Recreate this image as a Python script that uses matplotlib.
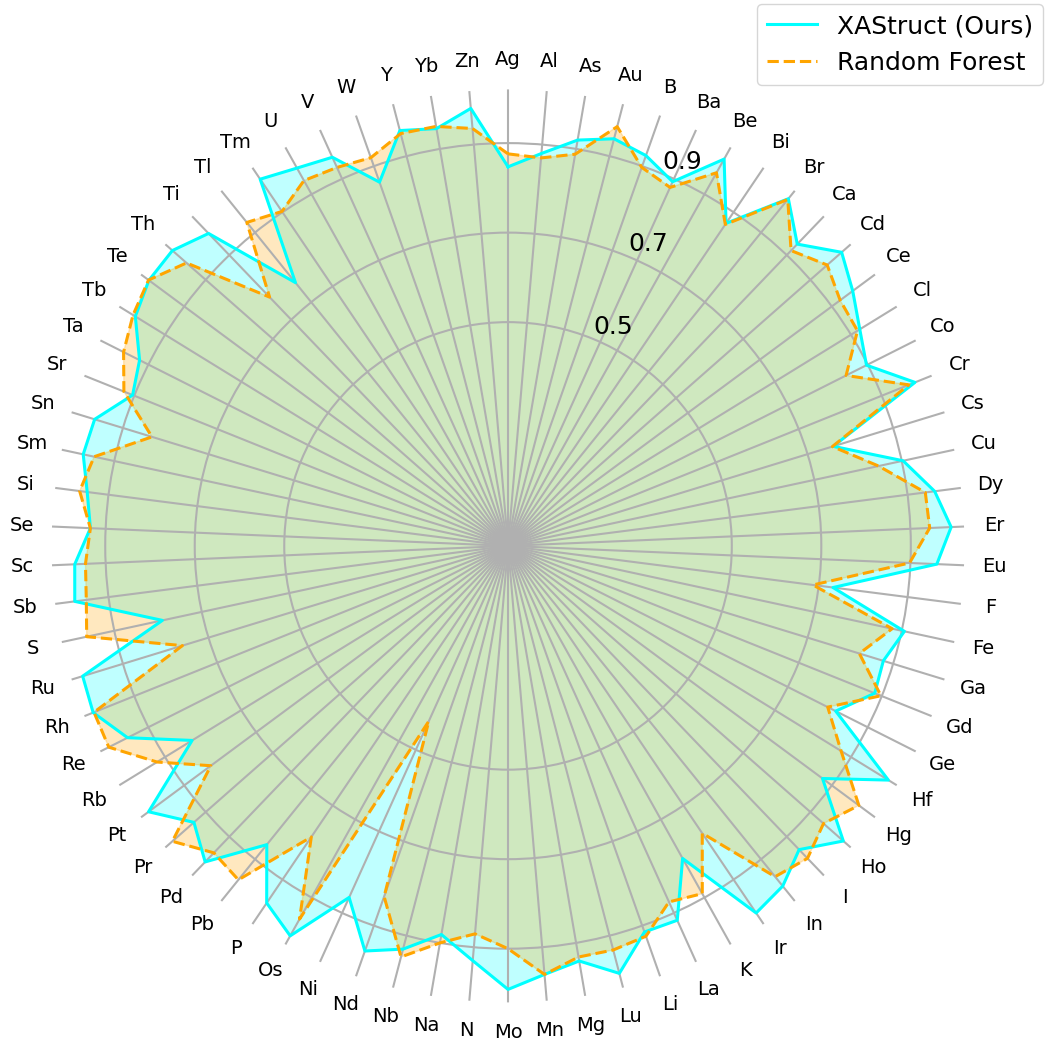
import matplotlib
matplotlib.use('Agg')
import matplotlib.pyplot as plt
import numpy as np

elements = ['Ag', 'Al', 'As', 'Au', 'B', 'Ba', 'Be', 'Bi', 'Br', 'Ca', 'Cd', 'Ce', 'Cl', 'Co',
            'Cr', 'Cs', 'Cu', 'Dy', 'Er', 'Eu', 'F', 'Fe', 'Ga', 'Gd', 'Ge', 'Hf', 'Hg', 'Ho',
            'I', 'In', 'Ir', 'K', 'La', 'Li', 'Lu', 'Mg', 'Mn', 'Mo', 'N', 'Na', 'Nb', 'Nd',
            'Ni', 'Os', 'P', 'Pb', 'Pd', 'Pr', 'Pt', 'Rb', 'Re', 'Rh', 'Ru', 'S', 'Sb', 'Sc',
            'Se', 'Si', 'Sm', 'Sn', 'Sr', 'Ta', 'Tb', 'Te', 'Th', 'Ti', 'Tl', 'Tm', 'U', 'V',
            'W', 'Y', 'Yb', 'Zn']

xastruct = [0.847, 0.880, 0.920, 0.940, 0.925, 0.893, 0.990, 0.870, 0.997, 0.934, 0.993, 0.958,
            0.923, 0.897, 0.980, 0.760, 0.903, 0.961, 0.991, 0.959, 0.732, 0.906, 0.877, 0.883,
            0.820, 0.998, 0.874, 0.998, 0.940, 0.977, 0.990, 0.800, 0.918, 0.915, 0.987, 0.941,
            0.961, 0.991, 0.930, 0.881, 0.931, 0.960, 0.862, 0.998, 0.963, 0.858, 0.978, 0.935,
            0.999, 0.829, 0.952, 0.999, 0.994, 0.790, 0.976, 0.969, 0.934, 0.948, 0.971, 0.966,
            0.904, 0.922, 0.978, 0.998, 0.999, 0.967, 0.756, 0.989, 0.967, 0.953, 0.862, 0.959,
            0.946, 0.981]

random_forest = [0.876, 0.870, 0.888, 0.968, 0.897, 0.879, 0.955, 0.867, 0.995, 0.914, 0.950, 0.923,
                 0.917, 0.846, 0.965, 0.758, 0.847, 0.940, 0.943, 0.898, 0.687, 0.878, 0.821, 0.898,
                 0.800, 0.874, 0.975, 0.939, 0.967, 0.950, 0.775, 0.890, 0.873, 0.925, 0.933, 0.932,
                 0.961, 0.900, 0.870, 0.900, 0.949, 0.831, 0.430, 0.955, 0.785, 0.959, 0.950, 0.999,
                 0.826, 0.921, 0.999, 0.997, 0.761, 0.963, 0.950, 0.945, 0.934, 0.965, 0.946, 0.832,
                 0.925, 0.962, 0.984, 0.999, 0.957, 0.770, 0.929, 0.902, 0.935, 0.928, 0.920, 0.952,
                 0.951, 0.936]

r_ticks = [0.5, 0.7, 0.9]

n = len(elements)
angles = np.linspace(0, 2 * np.pi, n, endpoint=False).tolist()
angles_closed = angles + angles[:1]

fig = plt.figure(figsize=(10.45, 10.42), dpi=100)
# axes placed so the centre sits where the reference has it
ax = fig.add_axes([0.0493, 0.038, 0.8737, 0.8762], projection='polar')
ax.set_theta_offset(np.pi / 2)
ax.set_theta_direction(-1)

vals = xastruct + xastruct[:1]
ax.plot(angles_closed, vals, color='cyan', lw=2.2, label='XAStruct (Ours)')
ax.fill(angles_closed, vals, color='cyan', alpha=0.25)

vals = random_forest + random_forest[:1]
ax.plot(angles_closed, vals, color='orange', lw=2.2, ls='--', label='Random Forest')
ax.fill(angles_closed, vals, color='orange', alpha=0.25)

ax.set_xticks(angles)
ax.set_xticklabels(elements, fontsize=14)
ax.tick_params(axis='x', pad=11)

ax.set_ylim(0, 1.02)
ax.set_yticks(r_ticks)
ax.set_yticklabels([str(t) for t in r_ticks], fontsize=18)
ax.set_rlabel_position(22.5)

ax.grid(color='#b0b0b0', lw=1.5)
ax.spines['polar'].set_visible(False)

fig.legend(loc='upper right', bbox_to_anchor=(0.998, 0.996), fontsize=18, borderaxespad=0)

fig.savefig('out.png', dpi=100, facecolor='white')
plt.close(fig)
